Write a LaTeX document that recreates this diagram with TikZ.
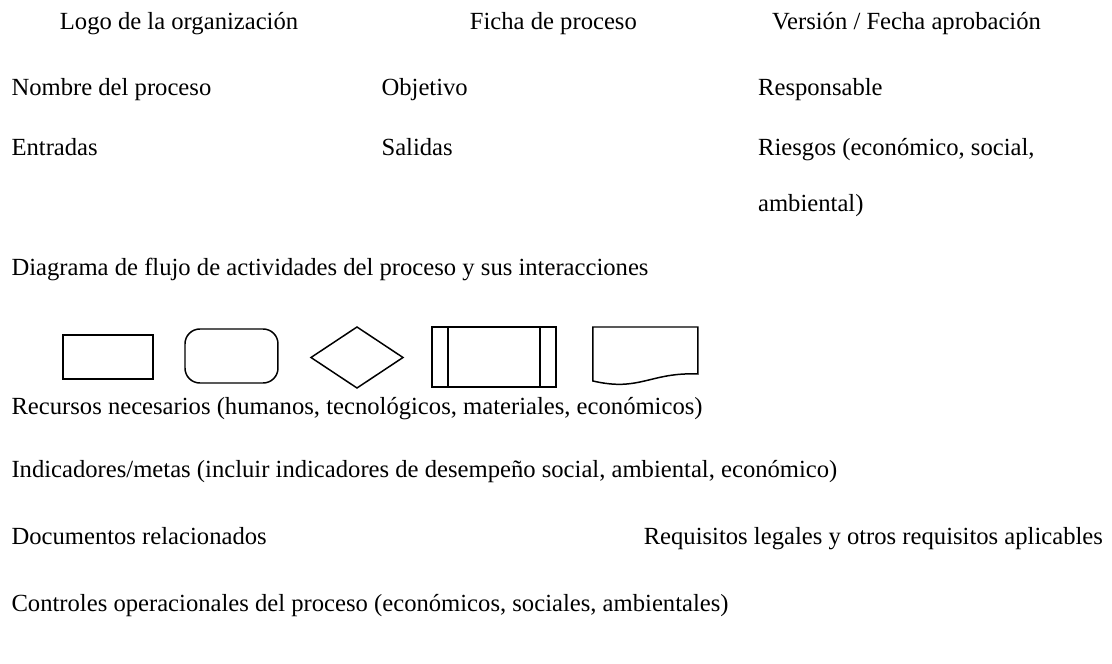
\documentclass[tikz,border=0pt]{standalone}
\usepackage{fontspec}
\setmainfont{Liberation Serif}
\tikzset{
  lbl/.style={anchor=base west, inner sep=0pt, font=\fontsize{13.25}{15}\selectfont},
  shp/.style={draw=black, line width=0.8pt}
}
\begin{document}
\begin{tikzpicture}[x=0.5pt,y=-0.5pt]
\useasboundingbox (0,0) rectangle (1196,714);
% header row
\node[lbl] (logo) at (64,32) {Logo de la organización};
\node[lbl] (ficha) at (505,32) {Ficha de proceso};
\node[lbl] (version) at (830,32) {Versión / Fecha aprobación};
% row 2
\node[lbl] (nombre) at (12,103) {Nombre del proceso};
\node[lbl] (objetivo) at (410,103) {Objetivo};
\node[lbl] (resp) at (815,103) {Responsable};
% row 3
\node[lbl] (entradas) at (12,167) {Entradas};
\node[lbl] (salidas) at (410,167) {Salidas};
\node[lbl] (riesgos) at (815,167) {Riesgos (económico, social,};
\node[lbl] (riesgos2) at (815,227) {ambiental)};
% diagram
\node[lbl] (diag) at (12,296) {Diagrama de flujo de actividades del proceso y sus interacciones};
% shapes (given in display units, scaled)
\begin{scope}[scale=1.0755]
\draw[shp] (63,335) rectangle (153,379);
\draw[shp, rounded corners=8pt] (185,329) rectangle (278,383);
\draw[shp] (311,357.5) -- (357,327) -- (403,357.5) -- (357,388) -- cycle;
\draw[shp] (432,327) rectangle (556,387);
\draw[shp] (448,327) -- (448,387);
\draw[shp] (540,327) -- (540,387);
\draw[shp] (593,327) -- (698,327) -- (698,374) .. controls (650,372) and (640,392) .. (593,381) -- cycle;
\end{scope}
% lower rows
\node[lbl] (recursos) at (12,446) {Recursos necesarios (humanos, tecnológicos, materiales, económicos)};
\node[lbl] (indic) at (12,514) {Indicadores/metas (incluir indicadores de desempeño social, ambiental, económico)};
\node[lbl] (docs) at (12,586) {Documentos relacionados};
\node[lbl] (req) at (692,586) {Requisitos legales y otros requisitos aplicables};
\node[lbl] (ctrl) at (12,658) {Controles operacionales del proceso (económicos, sociales, ambientales)};
\end{tikzpicture}
\end{document}
